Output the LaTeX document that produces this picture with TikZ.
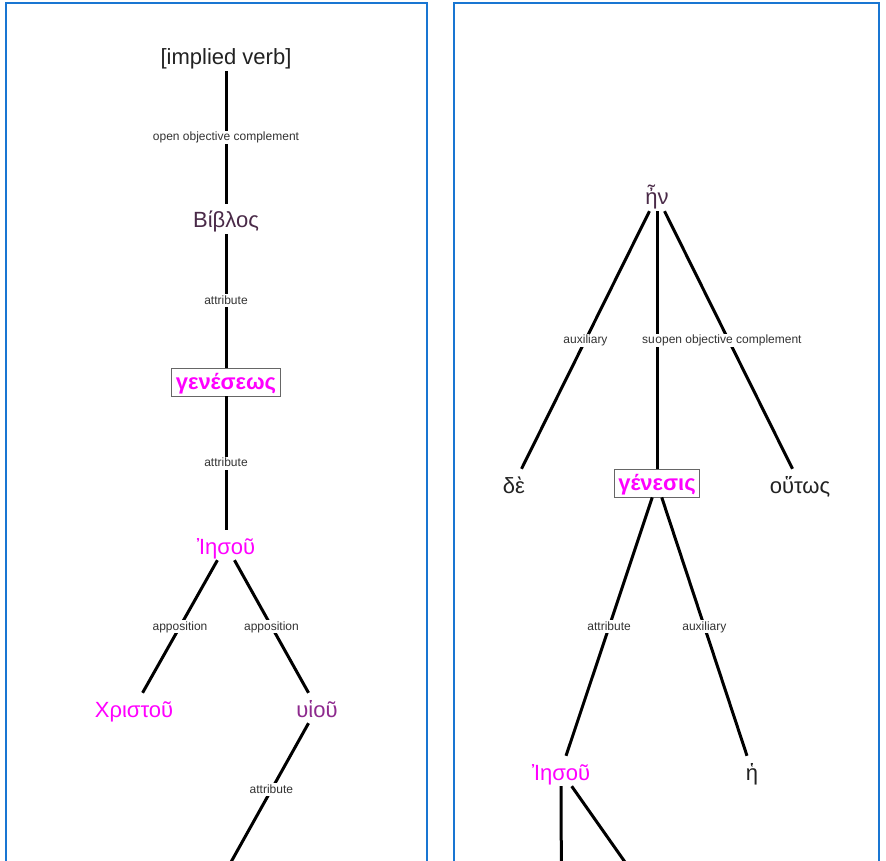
\documentclass[tikz,border=0pt]{standalone}
\usepackage{fontspec}
\setmainfont{Liberation Sans}
\usetikzlibrary{positioning}
\definecolor{panelblue}{RGB}{25,118,210}
\definecolor{hilite}{RGB}{255,0,255}
\definecolor{plum}{RGB}{74,42,72}
\definecolor{grape}{RGB}{142,42,142}
\definecolor{ink}{RGB}{34,34,34}
\definecolor{lblgray}{RGB}{51,51,51}
\begin{document}
\begin{tikzpicture}[x=1pt,y=-1pt,
  word/.style={font=\fontsize{22}{26}\selectfont, text height=19pt, text depth=1pt, inner xsep=2pt, inner ysep=5pt, fill=white},
  boxword/.style={word, font=\fontsize{22}{26}\selectfont\bfseries, text=hilite, draw=black!60, line width=0.8pt, text height=18pt, text depth=3pt, inner xsep=4pt, inner ysep=3.5pt},
  lbl/.style={font=\fontsize{12}{14}\selectfont, text=lblgray, fill=white, text height=9.5pt, text depth=2.5pt, inner xsep=1pt, inner ysep=0.5pt},
  link/.style={line width=3pt, black}]

\useasboundingbox (0,0) rectangle (886,861);
\clip (0,0) rectangle (886,861);

\draw [panelblue, line width=2pt] (5.5,2.7) rectangle (426.7,900);
\draw [panelblue, line width=2pt] (453.7,2.7) rectangle (879.3,900);

\node [word, text=ink] (iv) at (226,56) {[implied verb]};
\node [word, text=plum] (biblos) at (226,219) {Βίβλος};
\node [boxword] (geneseos) at (226,382) {γενέσεως};
\node [word, text=hilite] (iesouA) at (226,545) {Ἰησοῦ};
\node [word, text=hilite] (christou) at (134,708) {Χριστοῦ};
\node [word, text=grape] (huiou) at (317,708) {υἱοῦ};
\coordinate (huiouchild) at (226,871);

\draw [link] (iv) -- node[lbl] {open objective complement} (biblos);
\draw [link] (biblos) -- node[lbl] {attribute} (geneseos);
\draw [link] (geneseos) -- node[lbl] {attribute} (iesouA);
\draw [link] (iesouA) -- node[lbl] {apposition} (christou);
\draw [link] (iesouA) -- node[lbl] {apposition} (huiou);
\draw [link] (huiou) -- node[lbl, pos=0.45] {attribute} (huiouchild);

\node [word, text=plum] (en) at (657,196) {ἦν};
\node [word, text=ink] (de) at (514,484) {δὲ};
\node [boxword] (genesis) at (657,483) {γένεσις};
\node [word, text=ink] (houtos) at (800,484) {οὕτως};
\node [word, text=hilite] (iesouB) at (561,771) {Ἰησοῦ};
\node [word, text=ink] (he) at (752,771) {ἡ};
\coordinate (iesouchildA) at (562,1057);
\coordinate (iesouchildB) at (762,1057);

\draw [link] (en) -- node[lbl] {auxiliary} (de);
\draw [link] (en) -- (genesis);
\draw [link] (en) -- node[lbl] (ooc) {open objective complement} (houtos);
\node [lbl, inner xsep=0pt, fill=none, left=-2pt of ooc] (su) {su};

\draw [link] (genesis) -- node[lbl] {attribute} (iesouB);
\draw [link] (genesis) -- node[lbl] {auxiliary} (he);
\draw [link] (iesouB) -- (iesouchildA);
\draw [link] (iesouB) -- (iesouchildB);

\end{tikzpicture}
\end{document}
